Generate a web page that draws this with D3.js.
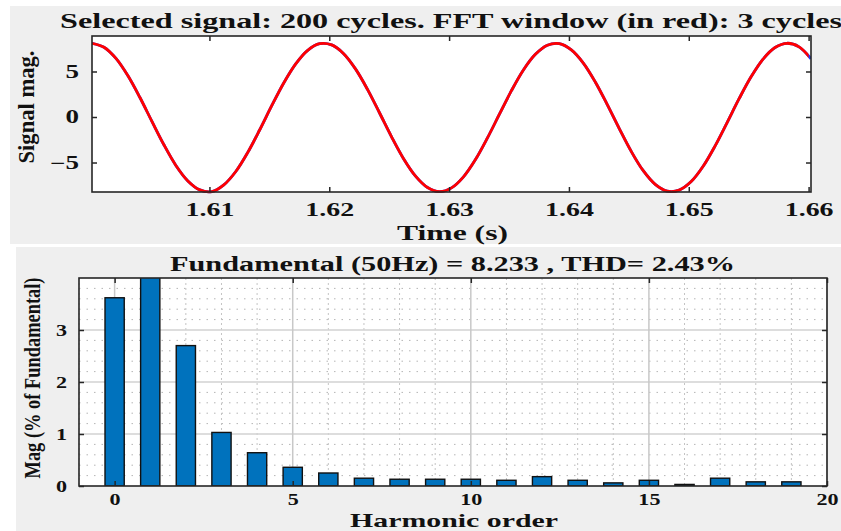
<!DOCTYPE html>
<html>
<head>
<meta charset="utf-8">
<script src="https://cdn.jsdelivr.net/npm/d3@7"></script>
<style>
  html, body { margin: 0; padding: 0; background: #ffffff; }
  svg { display: block; }
  text { font-family: "Liberation Serif", "Times New Roman", Times, serif; font-weight: bold; fill: #111; }
</style>
</head>
<body>
<svg id="chart" width="841" height="531"></svg>
<script>
// ---------------- DATA ----------------
// Top panel: signal samples (time start, step, magnitudes)
const signalStart = 1.6002;
const signalStep = 0.001;
const signalValues = [
  8.10, 7.67, 6.44, 4.53, 2.14, -0.48, -3.05, -5.32, -7.02, -8.01,
  -8.20, -7.46, -5.99, -3.89, -1.40, 1.24, 3.74, 5.84, 7.33, 8.05,
  7.92, 6.96, 5.26, 3.01, 0.44, -2.18, -4.58, -6.50, -7.75, -8.20,
  -7.79, -6.58, -4.68, -2.30, 0.31, 2.89, 5.17, 6.89, 7.89, 8.06,
  7.38, 5.93, 3.85, 1.36, -1.27, -3.78, -5.90, -7.40, -8.14, -8.03,
  -7.09, -5.41, -3.17, -0.61, 2.01, 4.42, 6.36, 7.63, 8.10, 7.71,
  6.40
];
const timeTicks = [1.61, 1.62, 1.63, 1.64, 1.65, 1.66];
const signalTicks = [-5, 0, 5];
const signalDomain = [-8.24, 8.9];
const timeDomain = [1.6002, 1.6602];
const fftWindowEnd = 1.66;

// Bottom panel: harmonic spectrum (% of fundamental)
const harmonicOrders = [0, 1, 2, 3, 4, 5, 6, 7, 8, 9, 10, 11, 12, 13, 14, 15, 16, 17, 18, 19];
const harmonicMags = [3.62, 100, 2.70, 1.03, 0.64, 0.36, 0.25, 0.15, 0.13, 0.13,
                      0.13, 0.11, 0.18, 0.11, 0.06, 0.11, 0.03, 0.15, 0.08, 0.08];
const harmonicTicks = [0, 5, 10, 15, 20];
const magTicks = [0, 1, 2, 3];
const harmonicDomain = [-1, 20];
const magDomain = [0, 4];

const title1 = "Selected signal: 200 cycles. FFT window (in red): 3 cycles";
const title2 = "Fundamental (50Hz) = 8.233 , THD= 2.43%";
const xLabel1 = "Time (s)";
const yLabel1 = "Signal mag.";
const xLabel2 = "Harmonic order";
const yLabel2 = "Mag (% of Fundamental)";

// ---------------- DRAWING ----------------
const svg = d3.select("#chart");
const defs = svg.append("defs");

// panel backgrounds
svg.append("rect").attr("x", 10).attr("y", 6).attr("width", 831).attr("height", 238).attr("fill", "#efefef");
svg.append("rect").attr("x", 16).attr("y", 247).attr("width", 825).attr("height", 284).attr("fill", "#efefef");

function stretch(sel, factor) {
  sel.each(function() {
    const w = this.getComputedTextLength();
    d3.select(this).attr("textLength", w * factor).attr("lengthAdjust", "spacingAndGlyphs");
  });
}

// ===== Top panel =====
const T = { l: 92, r: 811, t: 36, b: 192 };
const xT = d3.scaleLinear().domain(timeDomain).range([T.l, T.r]);
const yT = d3.scaleLinear().domain(signalDomain).range([T.b, T.t]);

svg.append("rect").attr("x", T.l).attr("y", T.t).attr("width", T.r - T.l).attr("height", T.b - T.t).attr("fill", "#fff");

defs.append("clipPath").attr("id", "clipT").append("rect")
  .attr("x", T.l).attr("y", T.t - 2).attr("width", T.r - T.l).attr("height", T.b - T.t + 4);
defs.append("clipPath").attr("id", "clipW").append("rect")
  .attr("x", T.l).attr("y", T.t - 2).attr("width", xT(fftWindowEnd) - T.l).attr("height", T.b - T.t + 4);

const sig = signalValues.map((v, i) => ({ t: signalStart + i * signalStep, v }));
const line = d3.line().x(d => xT(d.t)).y(d => yT(d.v)).curve(d3.curveCatmullRom);

svg.append("path").datum(sig).attr("d", line).attr("fill", "none")
  .attr("stroke", "#1f3cff").attr("stroke-width", 2.8).attr("clip-path", "url(#clipT)");
svg.append("path").datum(sig).attr("d", line).attr("fill", "none")
  .attr("stroke", "#ff0000").attr("stroke-width", 2.8).attr("clip-path", "url(#clipW)");

// axes top panel
const axBT = svg.append("g").attr("transform", `translate(0,${T.b})`)
  .call(d3.axisBottom(xT).tickValues(timeTicks).tickFormat(d3.format(".2f")).tickSize(-5).tickPadding(11));
axBT.selectAll("text").style("font-size", "18px");
stretch(axBT.selectAll("text"), 1.55);
svg.append("g").attr("transform", `translate(0,${T.t})`)
  .call(d3.axisTop(xT).tickValues(timeTicks).tickFormat("").tickSize(-5));
const axLT = svg.append("g").attr("transform", `translate(${T.l},0)`)
  .call(d3.axisLeft(yT).tickValues(signalTicks).tickFormat(d3.format("d")).tickSize(-5).tickPadding(13));
axLT.selectAll("text").style("font-size", "18px");
stretch(axLT.selectAll("text"), 1.5);
svg.append("g").attr("transform", `translate(${T.r},0)`)
  .call(d3.axisRight(yT).tickValues(signalTicks).tickFormat("").tickSize(-5));

svg.append("rect").attr("x", T.l).attr("y", T.t).attr("width", T.r - T.l).attr("height", T.b - T.t)
  .attr("fill", "none").attr("stroke", "#262626").attr("stroke-width", 1.6);

svg.append("text").attr("x", 60).attr("y", 28).style("font-size", "21px")
  .attr("textLength", 782).attr("lengthAdjust", "spacingAndGlyphs").text(title1);
svg.append("text").attr("x", 397).attr("y", 240).style("font-size", "20px")
  .attr("textLength", 111).attr("lengthAdjust", "spacingAndGlyphs").text(xLabel1);
svg.append("text").attr("transform", "translate(34,107) scale(1.3,1) rotate(-90)").attr("text-anchor", "middle")
  .style("font-size", "18px").attr("textLength", 113).attr("lengthAdjust", "spacingAndGlyphs").text(yLabel1);

// ===== Bottom panel =====
const B = { l: 79, r: 827, t: 278, b: 486 };
const xB = d3.scaleLinear().domain(harmonicDomain).range([B.l, B.r]);
const yB = d3.scaleLinear().domain(magDomain).range([B.b, B.t]);

svg.append("rect").attr("x", B.l).attr("y", B.t).attr("width", B.r - B.l).attr("height", B.b - B.t).attr("fill", "#fff");

// minor grid
const minorY = d3.range(1, 20).map(i => i * 0.2).filter(v => Math.abs(v - Math.round(v)) > 1e-6);
svg.append("g").selectAll("line").data(minorY).join("line")
  .attr("x1", B.l).attr("x2", B.r).attr("y1", d => yB(d)).attr("y2", d => yB(d))
  .attr("stroke", "#b5b5b5").attr("stroke-width", 1).attr("stroke-dasharray", "1.5,6");
const minorX = d3.range(-1, 20).filter(v => v % 5 !== 0);
svg.append("g").selectAll("line").data(minorX).join("line")
  .attr("x1", d => xB(d)).attr("x2", d => xB(d)).attr("y1", B.t).attr("y2", B.b)
  .attr("stroke", "#c4c4c4").attr("stroke-width", 1).attr("stroke-dasharray", "2,3");
// major grid
svg.append("g").selectAll("line").data(magTicks.slice(1)).join("line")
  .attr("x1", B.l).attr("x2", B.r).attr("y1", d => yB(d)).attr("y2", d => yB(d))
  .attr("stroke", "#d2d2d2").attr("stroke-width", 1.3);
svg.append("g").selectAll("line").data(harmonicTicks).join("line")
  .attr("x1", d => xB(d)).attr("x2", d => xB(d)).attr("y1", B.t).attr("y2", B.b)
  .attr("stroke", "#c8c8c8").attr("stroke-width", 1.5);

defs.append("clipPath").attr("id", "clipB").append("rect")
  .attr("x", B.l).attr("y", B.t).attr("width", B.r - B.l).attr("height", B.b - B.t);

const barW = (xB(1) - xB(0)) * 0.54;
svg.append("g").attr("clip-path", "url(#clipB)").selectAll("rect")
  .data(harmonicOrders.map((h, i) => ({ h, v: harmonicMags[i] })))
  .join("rect")
  .attr("x", d => xB(d.h) - barW / 2).attr("width", barW)
  .attr("y", d => yB(d.v)).attr("height", d => yB(0) - yB(d.v))
  .attr("fill", "#0072bd").attr("stroke", "#111").attr("stroke-width", 1.4);

const axBB = svg.append("g").attr("transform", `translate(0,${B.b})`)
  .call(d3.axisBottom(xB).tickValues(harmonicTicks).tickFormat(d3.format("d")).tickSize(-5).tickPadding(7));
axBB.selectAll("text").style("font-size", "17px");
stretch(axBB.selectAll("text"), 1.3);
svg.append("g").attr("transform", `translate(0,${B.t})`)
  .call(d3.axisTop(xB).tickValues(harmonicTicks).tickFormat("").tickSize(-5));
const axLB = svg.append("g").attr("transform", `translate(${B.l},0)`)
  .call(d3.axisLeft(yB).tickValues(magTicks).tickFormat(d3.format("d")).tickSize(-5).tickPadding(12));
axLB.selectAll("text").style("font-size", "17px");
stretch(axLB.selectAll("text"), 1.3);
svg.append("g").attr("transform", `translate(${B.r},0)`)
  .call(d3.axisRight(yB).tickValues(magTicks).tickFormat("").tickSize(-5));

svg.append("rect").attr("x", B.l).attr("y", B.t).attr("width", B.r - B.l).attr("height", B.b - B.t)
  .attr("fill", "none").attr("stroke", "#262626").attr("stroke-width", 1.6);

svg.append("text").attr("x", 170).attr("y", 271).style("font-size", "20px")
  .attr("textLength", 565).attr("lengthAdjust", "spacingAndGlyphs").text(title2);
svg.append("text").attr("x", 350).attr("y", 527).style("font-size", "19px")
  .attr("textLength", 208).attr("lengthAdjust", "spacingAndGlyphs").text(xLabel2);
svg.append("text").attr("transform", "translate(40,378) scale(1.3,1) rotate(-90)").attr("text-anchor", "middle")
  .style("font-size", "18px").attr("textLength", 201).attr("lengthAdjust", "spacingAndGlyphs").text(yLabel2);

// axis styling
svg.selectAll(".domain").remove();
svg.selectAll(".tick line").attr("stroke", "#262626").attr("stroke-width", 1.5);
svg.selectAll(".tick text").attr("fill", "#111").style("font-family", "'Liberation Serif', Times, serif").style("font-weight", "bold");
</script>
</body>
</html>
